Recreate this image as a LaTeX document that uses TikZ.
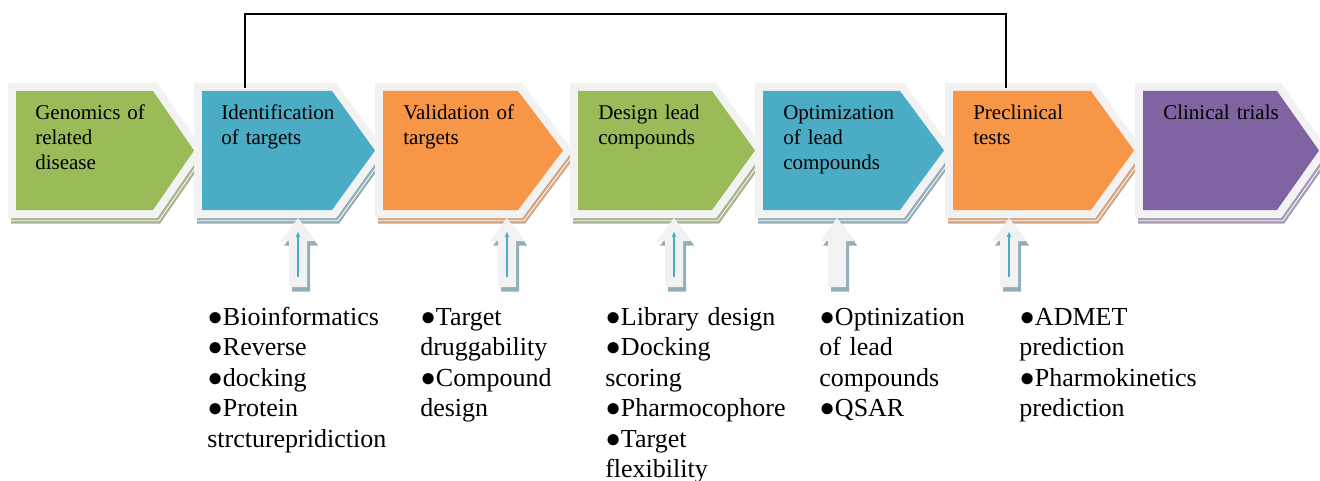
\documentclass[tikz,border=0pt]{standalone}
\usepackage{fontspec}
\setmainfont{Liberation Serif}
\usetikzlibrary{arrows.meta}

% step colours and their muted shadow tones
\definecolor{cgreen}{HTML}{9BBB59}
\definecolor{cblue}{HTML}{4BACC6}
\definecolor{corange}{HTML}{F79646}
\definecolor{cpurple}{HTML}{8064A2}
\definecolor{sgreen}{HTML}{A9B38F}
\definecolor{sblue}{HTML}{93AEB9}
\definecolor{sorange}{HTML}{D3A684}
\definecolor{spurple}{HTML}{A49CB7}
\definecolor{framegray}{HTML}{F2F2F2}

\begin{document}
\begin{tikzpicture}[x=0.75pt,y=-0.75pt,
  steplabel/.style={anchor=base west, inner sep=0pt, text width=120pt, align=left,
    font=\fontsize{15.75}{18.4}\selectfont},
  listlabel/.style={anchor=base west, inner sep=0pt, text width=160pt, align=left,
    font=\fontsize{19.5}{22.9}\selectfont},
  bus/.style={line width=1.5pt, black},
  innerarrow/.style={cblue, line width=1pt, -{Stealth[length=4pt,width=3.5pt]}}
]
\useasboundingbox (0,0) rectangle (1320,481);

% chevron shadows (muted tone with a light rim)
\foreach \L/\C/\T/\s in {16/153/194/sgreen, 202/332/375/sblue, 383/518/563/sorange,
    578/712/755/sgreen, 763/900/944/sblue, 953/1091/1134/sorange, 1143/1277/1319/spurple}{
  \fill[\s, shift={(3,5.5)}] ({\L-8},83) -- ({\C+4.2},83) -- ({\T+9.7},150.5)
      -- ({\C+4.2},218) -- ({\L-8},218) -- cycle;
  \draw[white, line width=0.6pt, shift={(1.6,2.8)}] ({\L-8},83) -- ({\C+4.2},83)
      -- ({\T+9.7},150.5) -- ({\C+4.2},218) -- ({\L-8},218) -- cycle;
}
% light frames
\foreach \L/\C/\T in {16/153/194, 202/332/375, 383/518/563, 578/712/755,
    763/900/944, 953/1091/1134, 1143/1277/1319}{
  \fill[framegray] ({\L-8},83) -- ({\C+4.2},83) -- ({\T+9.7},150.5)
      -- ({\C+4.2},218) -- ({\L-8},218) -- cycle;
}
% coloured chevrons
\foreach \L/\C/\T/\f in {16/153/194/cgreen, 202/332/375/cblue, 383/518/563/corange,
    578/712/755/cgreen, 763/900/944/cblue, 953/1091/1134/corange, 1143/1277/1319/cpurple}{
  \fill[\f] (\L,91) -- (\C,91) -- (\T,150.5) -- (\C,210) -- (\L,210) -- cycle;
}

% step labels
\node[steplabel] (t1) at (35,120) {Genomics of\\related\\disease};
\node[steplabel] (t2) at (221,120) {Identification\\of targets};
\node[steplabel] (t3) at (403,120) {Validation of\\targets};
\node[steplabel] (t4) at (598,120) {Design lead\\compounds};
\node[steplabel] (t5) at (783,120) {Optimization\\of lead\\compounds};
\node[steplabel] (t6) at (973,120) {Preclinical\\tests};
\node[steplabel] (t7) at (1163,120) {Clinical trials};

% feedback line from preclinical tests back to target identification
\coordinate (idtop) at (245,88);
\coordinate (pretop) at (1006,88);
\coordinate (busy) at (625,14);
\draw[bus] (idtop) -- (idtop |- busy) -- (pretop |- busy) -- (pretop);

% block up-arrows under the steps
\foreach \X/\withline in {298/1, 507/1, 674/1, 837/0, 1009/1}{
  \fill[sblue, shift={(3.2,4.5)}] (\X,218) -- ({\X+17},241) -- ({\X+9},241) -- ({\X+9},287)
      -- ({\X-9},287) -- ({\X-9},241) -- ({\X-17},241) -- cycle;
  \fill[framegray] (\X,218) -- ({\X+17},241) -- ({\X+9},241) -- ({\X+9},287)
      -- ({\X-9},287) -- ({\X-9},241) -- ({\X-17},241) -- cycle;
  \ifnum\withline=1
    \coordinate (a\X) at (\X,277);
    \coordinate (b\X) at (\X,232);
    \draw[innerarrow] (a\X) -- (b\X);
  \fi
}

% method lists
\node[listlabel] (b1) at (207,325) {●Bioinformatics\\●Reverse\\●docking\\●Protein\\strcturepridiction};
\node[listlabel] (b2) at (420,325) {●Target\\druggability\\●Compound\\design};
\node[listlabel] (b3) at (605,325) {●Library design\\●Docking\\scoring\\●Pharmocophore\\●Target\\flexibility};
\node[listlabel] (b4) at (819,325) {●Optinization\\of lead\\compounds\\●QSAR};
\node[listlabel] (b5) at (1019,325) {●ADMET\\prediction\\●Pharmokinetics\\prediction};
\end{tikzpicture}
\end{document}
